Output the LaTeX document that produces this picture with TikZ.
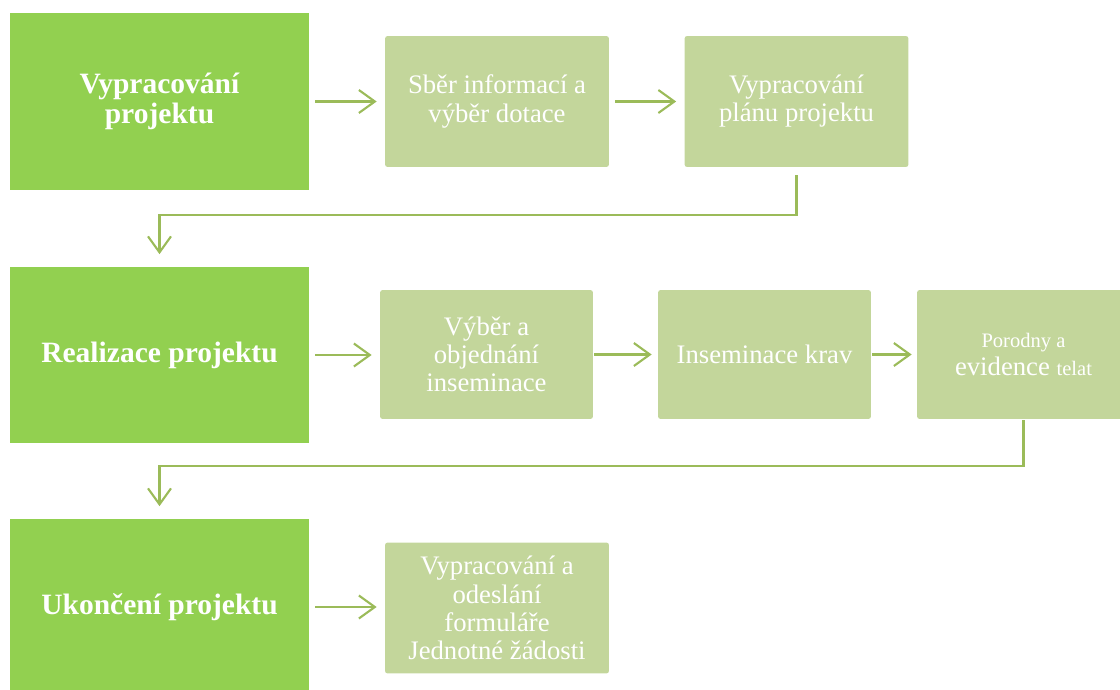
\documentclass[tikz,border=0pt]{standalone}
\usepackage{fontspec}
\setmainfont{Liberation Serif}
\usetikzlibrary{arrows.meta}
\definecolor{stageF}{RGB}{146,208,80}
\definecolor{taskF}{RGB}{195,214,155}
\definecolor{arr}{RGB}{155,187,89}

\begin{document}
\begin{tikzpicture}[
  x=0.02cm, y=-0.02cm,
  box/.style={draw=none, align=center, inner sep=2pt, text=white},
  stage/.style={box, fill=stageF, minimum width=5.98cm, minimum height=3.54cm, font=\fontsize{16.8}{17.5}\selectfont\bfseries},
  task/.style={box, fill=taskF, rounded corners=1.5pt, minimum width=4.48cm, minimum height=2.62cm, font=\fontsize{15.2}{16}\selectfont},
  tasknar/.style={task, minimum width=4.26cm, minimum height=2.58cm},
  flow/.style={-{Straight Barb[length=3.2mm, width=4.6mm]}, line width=1.2pt, draw=arr},
]
\useasboundingbox (0,0) rectangle (1120,690);
\clip (0,0) rectangle (1120,690);

% ---- stages ----
\node[stage] (prep) at (159.5,101.5) {Vypracování\\projektu};
\node[stage] (real) at (159.5,355)   {Realizace projektu};
\node[stage] (konec) at (159.5,607)  {Ukončení projektu};

% ---- row 1 ----
\node[task] (sber) at (497,101.5)   {Sběr informací a\\výběr dotace};
\node[task] (plan) at (796.5,101.5) {Vypracování\\plánu projektu};

% ---- row 2 ----
\node[tasknar] (vyber) at (486.5,354.5) {Výběr a\\objednání\\inseminace};
\node[tasknar] (insem) at (764.5,354.5) {Inseminace krav};
\node[tasknar] (porod) at (1023.5,354.5) {{\fontsize{11.7}{13}\selectfont Porodny a}\\evidence {\fontsize{11.7}{13}\selectfont telat}};

% ---- row 3 ----
\node[task] (form) at (497,608) {Vypracování a\\odeslání\\formuláře\\Jednotné žádosti};

% ---- arrows ----
\draw[flow, shorten <=0.12cm, shorten >=0.16cm] (prep.east) -- (prep.east -| sber.west);
\draw[flow, shorten <=0.12cm, shorten >=0.16cm] (sber.east) -- (sber.east -| plan.west);
\draw[flow, shorten <=0.12cm, shorten >=0.16cm] (real.east) -- (real.east -| vyber.west);
\draw[flow, shorten <=0.02cm, shorten >=0.12cm] (vyber.east) -- (insem.west);
\draw[flow, shorten <=0.02cm, shorten >=0.10cm] (insem.east) -- (porod.west);
\draw[flow, shorten <=0.12cm, shorten >=0.16cm] (konec.east) -- (konec.east -| form.west);
\draw[flow, shorten <=0.16cm, shorten >=0.24cm] (plan.south) -- ++(0,48) -| (real.north);
\draw[flow, shorten <=0.02cm, shorten >=0.24cm] (porod.south) -- ++(0,47) -| (konec.north);

\end{tikzpicture}
\end{document}
